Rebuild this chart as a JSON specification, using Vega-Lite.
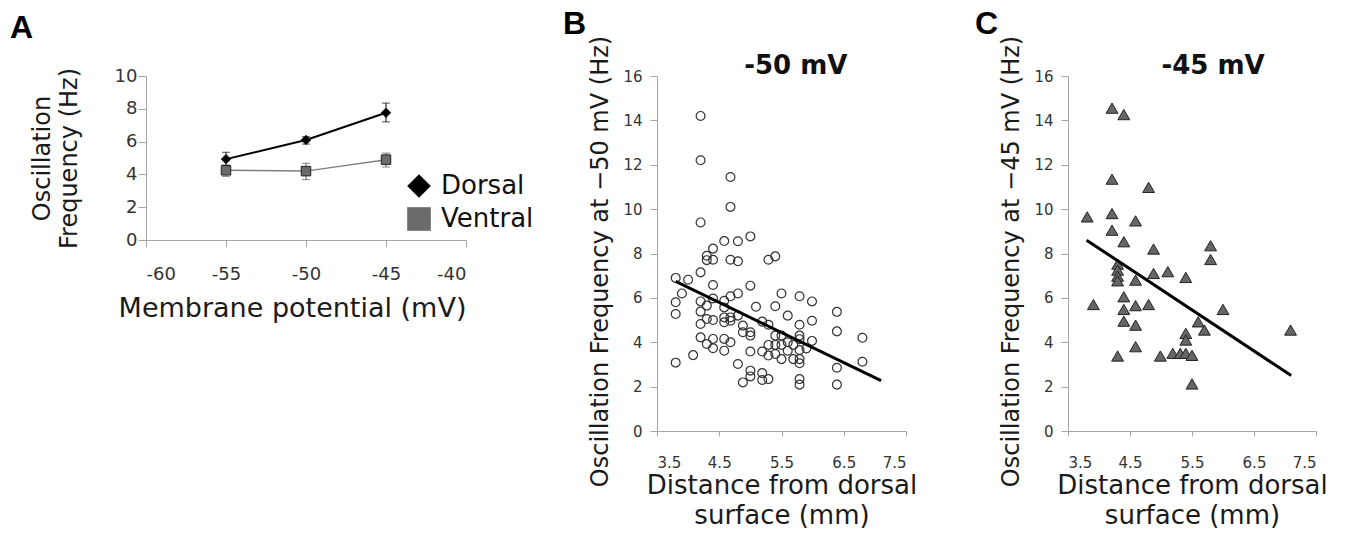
{
  "$schema": "https://vega.github.io/schema/vega-lite/v6.json",
  "background": "white",
  "padding": {"left": 10, "top": 8, "right": 5, "bottom": 5},
  "config": {
    "view": {"stroke": null},
    "font": "DejaVu Sans",
    "axis": {"grid": false, "domainColor": "#a6a6a6", "tickColor": "#a6a6a6", "labelColor": "#333333", "titleColor": "#1a1a1a", "titleFontWeight": "normal", "labelFont": "DejaVu Sans", "titleFont": "DejaVu Sans", "labelOverlap": false}
  },
  "bounds": "flush",
  "spacing": 191,
  "hconcat": [
    {
      "width": 320,
      "height": 164,
      "data": {"values": [
        {"group": "Dorsal", "mv": -55, "freq": 4.93, "lo": 4.5, "hi": 5.35},
        {"group": "Dorsal", "mv": -50, "freq": 6.1, "lo": 5.85, "hi": 6.3},
        {"group": "Dorsal", "mv": -45, "freq": 7.76, "lo": 7.2, "hi": 8.35},
        {"group": "Ventral", "mv": -55, "freq": 4.25, "lo": 3.88, "hi": 4.58},
        {"group": "Ventral", "mv": -50, "freq": 4.2, "lo": 3.68, "hi": 4.68},
        {"group": "Ventral", "mv": -45, "freq": 4.9, "lo": 4.45, "hi": 5.3}
      ]},
      "layer": [
        {
          "transform": [{"filter": "datum.group === 'Dorsal'"}],
          "mark": {"type": "line", "strokeWidth": 2, "color": "#000000"},
          "encoding": {
            "x": {"field": "mv", "type": "quantitative", "scale": {"domain": [-60, -40], "nice": false, "zero": false},
              "axis": {"values": [-60, -55, -50, -45, -40], "labelExpr": "replace(datum.label, '−', '-')", "title": "Membrane potential (mV)", "titleFontSize": 27, "labelFontSize": 18, "tickSize": 7, "labelPadding": 18, "titlePadding": 12, "titleX": 146}},
            "y": {"field": "freq", "type": "quantitative", "scale": {"domain": [0, 10], "nice": false},
              "axis": {"values": [0, 2, 4, 6, 8, 10], "tickCount": 6, "labelOverlap": false, "title": ["Oscillation", "Frequency (Hz)"], "titleFontSize": 24, "titleLineHeight": 27, "labelFontSize": 18, "tickSize": 8, "labelPadding": 1, "titlePadding": 33}}
          }
        },
        {
          "transform": [{"filter": "datum.group === 'Ventral'"}],
          "mark": {"type": "line", "strokeWidth": 1.5, "color": "#808080"},
          "encoding": {
            "x": {"field": "mv", "type": "quantitative", "scale": {"domain": [-60, -40], "nice": false, "zero": false},
              "axis": {"values": [-60, -55, -50, -45, -40], "labelExpr": "replace(datum.label, '−', '-')", "title": "Membrane potential (mV)", "titleFontSize": 27, "labelFontSize": 18, "tickSize": 7, "labelPadding": 18, "titlePadding": 12, "titleX": 146}},
            "y": {"field": "freq", "type": "quantitative", "scale": {"domain": [0, 10], "nice": false},
              "axis": {"values": [0, 2, 4, 6, 8, 10], "tickCount": 6, "labelOverlap": false, "title": ["Oscillation", "Frequency (Hz)"], "titleFontSize": 24, "titleLineHeight": 27, "labelFontSize": 18, "tickSize": 8, "labelPadding": 1, "titlePadding": 33}}
          }
        },
        {
          "transform": [{"filter": "datum.group === 'Dorsal'"}],
          "mark": {"type": "errorbar", "color": "#000000", "ticks": {"size": 8}, "rule": {"strokeWidth": 1}},
          "encoding": {
            "x": {"field": "mv", "type": "quantitative", "scale": {"domain": [-60, -40], "nice": false, "zero": false},
              "axis": {"values": [-60, -55, -50, -45, -40], "labelExpr": "replace(datum.label, '−', '-')", "title": "Membrane potential (mV)", "titleFontSize": 27, "labelFontSize": 18, "tickSize": 7, "labelPadding": 18, "titlePadding": 12, "titleX": 146}},
            "y": {"field": "lo", "type": "quantitative", "scale": {"domain": [0, 10], "nice": false},
              "axis": {"values": [0, 2, 4, 6, 8, 10], "tickCount": 6, "labelOverlap": false, "title": ["Oscillation", "Frequency (Hz)"], "titleFontSize": 24, "titleLineHeight": 27, "labelFontSize": 18, "tickSize": 8, "labelPadding": 1, "titlePadding": 33}},
            "y2": {"field": "hi"}
          }
        },
        {
          "transform": [{"filter": "datum.group === 'Ventral'"}],
          "mark": {"type": "errorbar", "color": "#555555", "ticks": {"size": 8}, "rule": {"strokeWidth": 1}},
          "encoding": {
            "x": {"field": "mv", "type": "quantitative", "scale": {"domain": [-60, -40], "nice": false, "zero": false},
              "axis": {"values": [-60, -55, -50, -45, -40], "labelExpr": "replace(datum.label, '−', '-')", "title": "Membrane potential (mV)", "titleFontSize": 27, "labelFontSize": 18, "tickSize": 7, "labelPadding": 18, "titlePadding": 12, "titleX": 146}},
            "y": {"field": "lo", "type": "quantitative", "scale": {"domain": [0, 10], "nice": false},
              "axis": {"values": [0, 2, 4, 6, 8, 10], "tickCount": 6, "labelOverlap": false, "title": ["Oscillation", "Frequency (Hz)"], "titleFontSize": 24, "titleLineHeight": 27, "labelFontSize": 18, "tickSize": 8, "labelPadding": 1, "titlePadding": 33}},
            "y2": {"field": "hi"}
          }
        },
        {
          "mark": {"type": "point", "filled": true, "size": 90, "stroke": "#222222", "strokeWidth": 1, "opacity": 1},
          "encoding": {
            "x": {"field": "mv", "type": "quantitative", "scale": {"domain": [-60, -40], "nice": false, "zero": false},
              "axis": {"values": [-60, -55, -50, -45, -40], "labelExpr": "replace(datum.label, '−', '-')", "title": "Membrane potential (mV)", "titleFontSize": 27, "labelFontSize": 18, "tickSize": 7, "labelPadding": 18, "titlePadding": 12, "titleX": 146}},
            "y": {"field": "freq", "type": "quantitative", "scale": {"domain": [0, 10], "nice": false},
              "axis": {"values": [0, 2, 4, 6, 8, 10], "tickCount": 6, "labelOverlap": false, "title": ["Oscillation", "Frequency (Hz)"], "titleFontSize": 24, "titleLineHeight": 27, "labelFontSize": 18, "tickSize": 8, "labelPadding": 1, "titlePadding": 33}},
            "color": {"field": "group", "type": "nominal", "scale": {"domain": ["Dorsal", "Ventral"], "range": ["#000000", "#6b6b6b"]},
              "legend": {"title": null, "orient": "none", "legendX": 260, "legendY": 97, "symbolSize": 560, "labelFontSize": 26, "labelFont": "DejaVu Sans", "labelColor": "#111111", "labelOffset": 9, "rowPadding": 5, "symbolStrokeColor": "#222222", "symbolStrokeWidth": 1, "symbolOpacity": 1}},
            "shape": {"field": "group", "type": "nominal", "scale": {"domain": ["Dorsal", "Ventral"], "range": ["diamond", "square"]},
              "legend": {"title": null, "orient": "none", "legendX": 260, "legendY": 97, "symbolSize": 560, "labelFontSize": 26, "labelFont": "DejaVu Sans", "labelColor": "#111111", "labelOffset": 9, "rowPadding": 5, "symbolStrokeColor": "#222222", "symbolStrokeWidth": 1, "symbolOpacity": 1}}
          }
        },
        {
          "data": {"values": [{"label": "A"}]},
          "mark": {"type": "text", "font": "Liberation Sans", "fontSize": 32, "fontWeight": "bold", "align": "left", "baseline": "alphabetic", "color": "#000000"},
          "encoding": {
            "text": {"field": "label"},
            "x": {"datum": -68.5, "type": "quantitative",
              "axis": {"values": [-60, -55, -50, -45, -40], "labelExpr": "replace(datum.label, '−', '-')", "title": "Membrane potential (mV)", "titleFontSize": 27, "labelFontSize": 18, "tickSize": 7, "labelPadding": 18, "titlePadding": 12, "titleX": 146}},
            "y": {"datum": 12.32, "type": "quantitative",
              "axis": {"values": [0, 2, 4, 6, 8, 10], "tickCount": 6, "labelOverlap": false, "title": ["Oscillation", "Frequency (Hz)"], "titleFontSize": 24, "titleLineHeight": 27, "labelFontSize": 18, "tickSize": 8, "labelPadding": 1, "titlePadding": 33}}
          }
        }
      ]
    },
    {
      "bounds": "flush",
      "spacing": 162,
      "hconcat": [
        {
          "width": 249,
          "height": 355,
          "layer": [
            {
              "data": {"values": [
                {"dist": 3.8, "freq": 6.9}, {"dist": 3.8, "freq": 5.8}, {"dist": 3.8, "freq": 5.27}, {"dist": 3.8, "freq": 3.08},
                {"dist": 3.9, "freq": 6.2}, {"dist": 4.0, "freq": 6.82}, {"dist": 4.08, "freq": 3.42},
                {"dist": 4.2, "freq": 14.2}, {"dist": 4.2, "freq": 12.2}, {"dist": 4.2, "freq": 9.4}, {"dist": 4.2, "freq": 7.15}, {"dist": 4.2, "freq": 5.84}, {"dist": 4.2, "freq": 5.38}, {"dist": 4.2, "freq": 4.82}, {"dist": 4.2, "freq": 4.22},
                {"dist": 4.3, "freq": 7.9}, {"dist": 4.3, "freq": 7.7}, {"dist": 4.3, "freq": 5.65}, {"dist": 4.3, "freq": 5.05}, {"dist": 4.3, "freq": 3.92},
                {"dist": 4.4, "freq": 8.22}, {"dist": 4.4, "freq": 7.72}, {"dist": 4.4, "freq": 6.58}, {"dist": 4.4, "freq": 5.97}, {"dist": 4.4, "freq": 5.0}, {"dist": 4.4, "freq": 4.15}, {"dist": 4.4, "freq": 3.73},
                {"dist": 4.58, "freq": 8.56}, {"dist": 4.58, "freq": 5.87}, {"dist": 4.58, "freq": 5.57}, {"dist": 4.58, "freq": 5.12}, {"dist": 4.58, "freq": 4.9}, {"dist": 4.58, "freq": 4.15}, {"dist": 4.58, "freq": 3.62},
                {"dist": 4.68, "freq": 11.45}, {"dist": 4.68, "freq": 10.1}, {"dist": 4.68, "freq": 7.72}, {"dist": 4.68, "freq": 6.07}, {"dist": 4.68, "freq": 5.12}, {"dist": 4.68, "freq": 4.97}, {"dist": 4.68, "freq": 4.0},
                {"dist": 4.8, "freq": 8.55}, {"dist": 4.8, "freq": 7.65}, {"dist": 4.8, "freq": 6.2}, {"dist": 4.8, "freq": 5.2}, {"dist": 4.8, "freq": 3.02},
                {"dist": 4.88, "freq": 4.75}, {"dist": 4.88, "freq": 4.45}, {"dist": 4.88, "freq": 2.19},
                {"dist": 5.0, "freq": 8.77}, {"dist": 5.0, "freq": 6.55}, {"dist": 5.0, "freq": 4.45}, {"dist": 5.0, "freq": 4.3}, {"dist": 5.0, "freq": 3.58}, {"dist": 5.0, "freq": 2.72}, {"dist": 5.0, "freq": 2.46},
                {"dist": 5.09, "freq": 5.6},
                {"dist": 5.19, "freq": 4.93}, {"dist": 5.19, "freq": 3.58}, {"dist": 5.19, "freq": 2.61}, {"dist": 5.19, "freq": 2.3},
                {"dist": 5.29, "freq": 7.72}, {"dist": 5.29, "freq": 4.79}, {"dist": 5.29, "freq": 3.88}, {"dist": 5.29, "freq": 3.4}, {"dist": 5.29, "freq": 2.34},
                {"dist": 5.4, "freq": 7.87}, {"dist": 5.4, "freq": 5.62}, {"dist": 5.4, "freq": 4.3}, {"dist": 5.4, "freq": 3.88}, {"dist": 5.4, "freq": 3.47},
                {"dist": 5.5, "freq": 6.2}, {"dist": 5.5, "freq": 4.3}, {"dist": 5.5, "freq": 3.88}, {"dist": 5.5, "freq": 3.24},
                {"dist": 5.6, "freq": 5.2}, {"dist": 5.6, "freq": 4.0}, {"dist": 5.6, "freq": 3.62},
                {"dist": 5.69, "freq": 3.88}, {"dist": 5.69, "freq": 3.24},
                {"dist": 5.79, "freq": 6.07}, {"dist": 5.79, "freq": 4.79}, {"dist": 5.79, "freq": 4.3}, {"dist": 5.79, "freq": 4.14}, {"dist": 5.79, "freq": 3.65}, {"dist": 5.79, "freq": 3.24}, {"dist": 5.79, "freq": 3.05}, {"dist": 5.79, "freq": 2.34}, {"dist": 5.79, "freq": 2.09},
                {"dist": 5.9, "freq": 3.72},
                {"dist": 5.99, "freq": 5.84}, {"dist": 5.99, "freq": 4.97}, {"dist": 5.99, "freq": 4.06},
                {"dist": 6.39, "freq": 5.37}, {"dist": 6.39, "freq": 4.49}, {"dist": 6.39, "freq": 2.85}, {"dist": 6.39, "freq": 2.09},
                {"dist": 6.8, "freq": 4.2}, {"dist": 6.8, "freq": 3.12}
              ]},
              "mark": {"type": "point", "shape": "circle", "size": 78, "filled": false, "color": "#333333", "strokeWidth": 1.2, "opacity": 1},
              "encoding": {
                "x": {"field": "dist", "type": "quantitative", "scale": {"domain": [3.5, 7.5], "nice": false, "zero": false},
                  "axis": {"values": [3.5, 4.5, 5.5, 6.5, 7.5], "format": ".1f", "title": ["Distance from dorsal", "surface (mm)"], "titleFontSize": 26, "titleLineHeight": 30, "labelFontSize": 15, "tickSize": 5, "labelPadding": 19, "titlePadding": 2}},
                "y": {"field": "freq", "type": "quantitative", "scale": {"domain": [0, 16], "nice": false},
                  "axis": {"values": [0, 2, 4, 6, 8, 10, 12, 14, 16], "title": "Oscillation Frequency at −50 mV (Hz)", "titleFontSize": 24, "labelFontSize": 15, "tickSize": 7, "labelPadding": 8, "titlePadding": 10, "titleY": 185}}
              }
            },
            {
              "data": {"values": [{"dist": 3.8, "freq": 6.74}, {"dist": 7.1, "freq": 2.27}]},
              "mark": {"type": "line", "color": "#000000", "strokeWidth": 3},
              "encoding": {"x": {"field": "dist", "type": "quantitative"}, "y": {"field": "freq", "type": "quantitative"}}
            },
            {
              "data": {"values": [{"label": "B"}]},
              "mark": {"type": "text", "font": "Liberation Sans", "fontSize": 32, "fontWeight": "bold", "align": "left", "baseline": "alphabetic", "color": "#000000"},
              "encoding": {"text": {"field": "label"}, "x": {"datum": 1.99}, "y": {"datum": 17.89}}
            },
            {
              "data": {"values": [{"label": "-50 mV"}]},
              "mark": {"type": "text", "font": "DejaVu Sans", "fontSize": 26, "fontWeight": "bold", "align": "center", "baseline": "alphabetic", "color": "#111111"},
              "encoding": {"text": {"field": "label"}, "x": {"datum": 5.73}, "y": {"datum": 16.09}}
            }
          ]
        },
        {
          "width": 248,
          "height": 355,
          "layer": [
            {
              "data": {"values": [
                {"dist": 4.21, "freq": 14.55}, {"dist": 4.4, "freq": 14.26}, {"dist": 4.21, "freq": 11.35}, {"dist": 4.8, "freq": 10.98},
                {"dist": 3.81, "freq": 9.65}, {"dist": 4.21, "freq": 9.8}, {"dist": 4.59, "freq": 9.47}, {"dist": 4.21, "freq": 9.05},
                {"dist": 4.4, "freq": 8.53}, {"dist": 4.88, "freq": 8.2}, {"dist": 5.8, "freq": 8.35}, {"dist": 5.8, "freq": 7.73},
                {"dist": 4.3, "freq": 7.52}, {"dist": 4.3, "freq": 7.25}, {"dist": 4.3, "freq": 6.98}, {"dist": 4.3, "freq": 6.77},
                {"dist": 4.59, "freq": 6.8}, {"dist": 4.88, "freq": 7.1}, {"dist": 5.11, "freq": 7.18}, {"dist": 5.4, "freq": 6.92},
                {"dist": 3.91, "freq": 5.7}, {"dist": 4.4, "freq": 6.05}, {"dist": 4.4, "freq": 5.48}, {"dist": 4.4, "freq": 4.95},
                {"dist": 4.59, "freq": 5.65}, {"dist": 4.59, "freq": 4.77}, {"dist": 4.8, "freq": 5.7}, {"dist": 4.3, "freq": 3.38},
                {"dist": 4.59, "freq": 3.8}, {"dist": 4.99, "freq": 3.38}, {"dist": 5.19, "freq": 3.5}, {"dist": 5.31, "freq": 3.5},
                {"dist": 5.4, "freq": 3.5}, {"dist": 5.5, "freq": 3.41}, {"dist": 5.4, "freq": 4.4}, {"dist": 5.4, "freq": 4.1},
                {"dist": 5.6, "freq": 4.92}, {"dist": 5.7, "freq": 4.55}, {"dist": 6.0, "freq": 5.48}, {"dist": 7.09, "freq": 4.55},
                {"dist": 5.5, "freq": 2.12}
              ]},
              "mark": {"type": "point", "shape": "triangle-up", "size": 140, "filled": true, "fill": "#666666", "stroke": "#222222", "strokeWidth": 1, "opacity": 1},
              "encoding": {
                "x": {"field": "dist", "type": "quantitative", "scale": {"domain": [3.5, 7.5], "nice": false, "zero": false},
                  "axis": {"values": [3.5, 4.5, 5.5, 6.5, 7.5], "format": ".1f", "title": ["Distance from dorsal", "surface (mm)"], "titleFontSize": 26, "titleLineHeight": 30, "labelFontSize": 15, "tickSize": 5, "labelPadding": 19, "titlePadding": 2}},
                "y": {"field": "freq", "type": "quantitative", "scale": {"domain": [0, 16], "nice": false},
                  "axis": {"values": [0, 2, 4, 6, 8, 10, 12, 14, 16], "title": "Oscillation Frequency at −45 mV (Hz)", "titleFontSize": 24, "labelFontSize": 15, "tickSize": 7, "labelPadding": 8, "titlePadding": 10, "titleY": 185}}
              }
            },
            {
              "data": {"values": [{"dist": 3.8, "freq": 8.6}, {"dist": 7.1, "freq": 2.5}]},
              "mark": {"type": "line", "color": "#000000", "strokeWidth": 3},
              "encoding": {"x": {"field": "dist", "type": "quantitative"}, "y": {"field": "freq", "type": "quantitative"}}
            },
            {
              "data": {"values": [{"label": "C"}]},
              "mark": {"type": "text", "font": "Liberation Sans", "fontSize": 32, "fontWeight": "bold", "align": "left", "baseline": "alphabetic", "color": "#000000"},
              "encoding": {"text": {"field": "label"}, "x": {"datum": 2.0}, "y": {"datum": 17.89}}
            },
            {
              "data": {"values": [{"label": "-45 mV"}]},
              "mark": {"type": "text", "font": "DejaVu Sans", "fontSize": 26, "fontWeight": "bold", "align": "center", "baseline": "alphabetic", "color": "#111111"},
              "encoding": {"text": {"field": "label"}, "x": {"datum": 5.84}, "y": {"datum": 16.09}}
            }
          ]
        }
      ]
    }
  ]
}
